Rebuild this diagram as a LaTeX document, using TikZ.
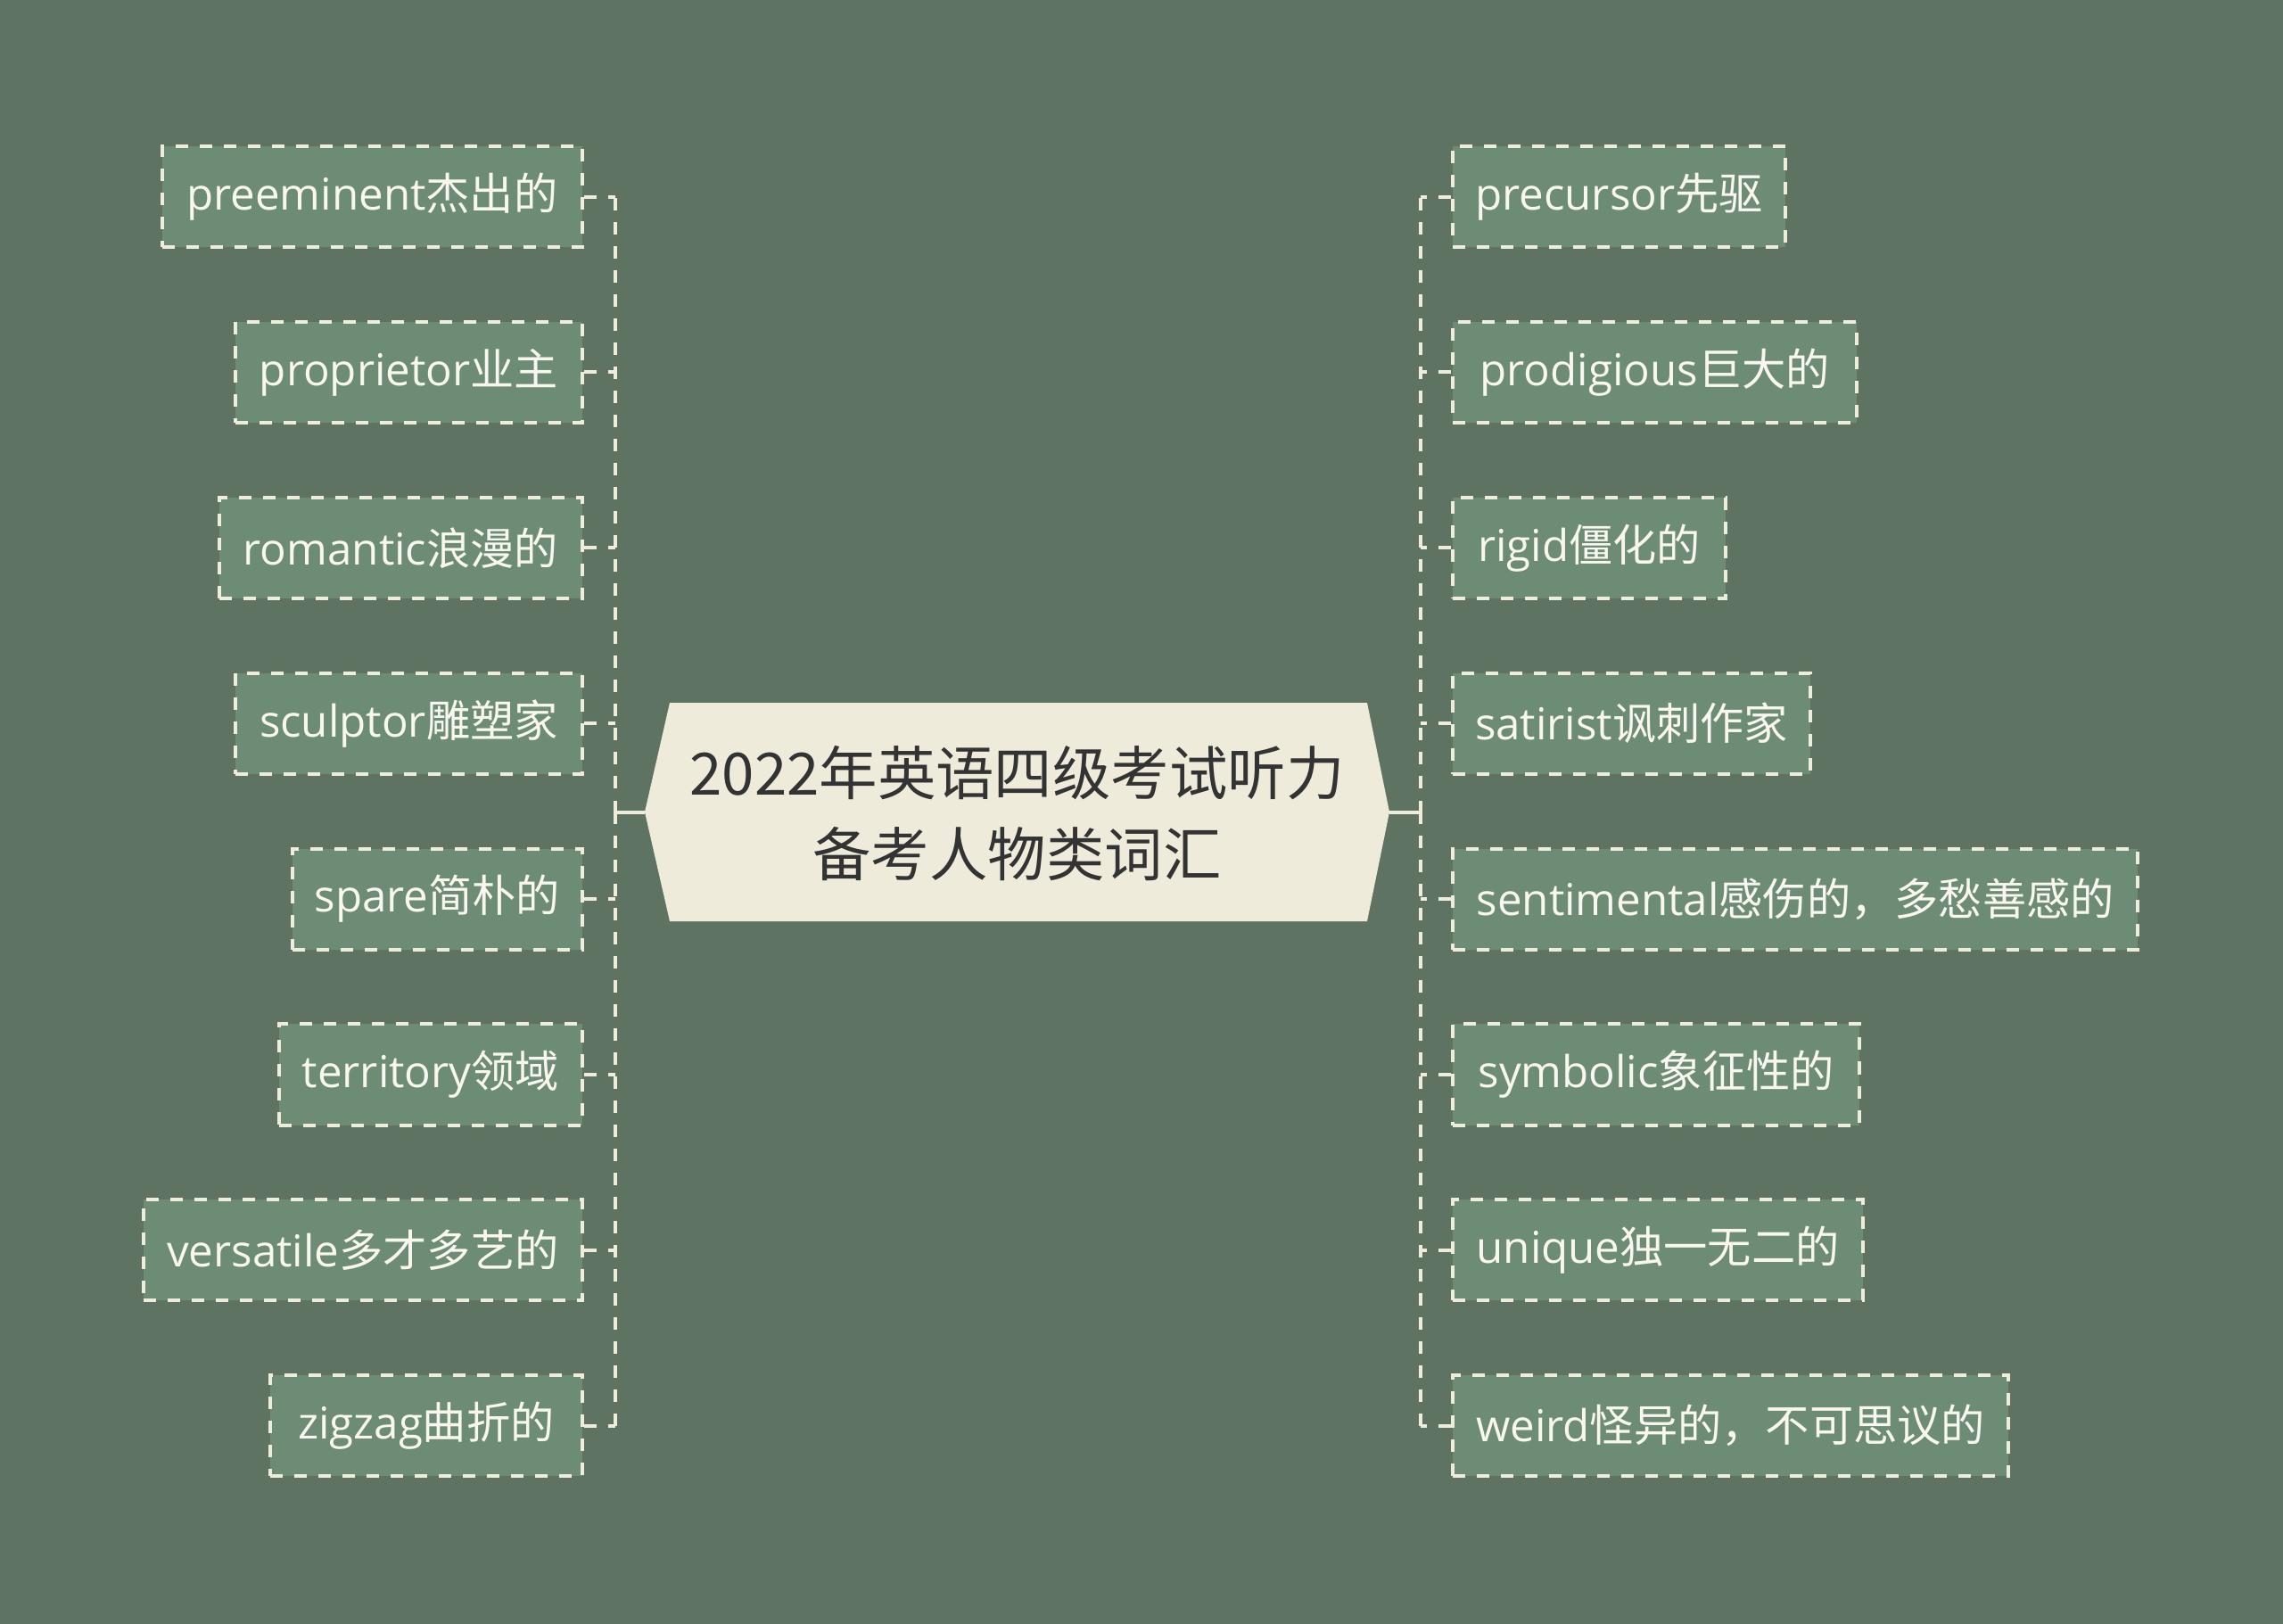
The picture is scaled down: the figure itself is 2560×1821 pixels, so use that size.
\documentclass[tikz,border=0pt]{standalone}
\usepackage{fontspec}
\setmainfont{Open Sans}
\newfontfamily\cjk{Noto Sans CJK SC}
\definecolor{bgc}{RGB}{95,115,98}
\definecolor{boxc}{RGB}{108,140,117}
\definecolor{creamc}{RGB}{239,235,219}
\definecolor{linec}{RGB}{240,236,220}
\definecolor{textc}{RGB}{248,246,238}
\definecolor{darkc}{RGB}{51,51,51}
\tikzset{
  itembox/.style={draw=linec, fill=boxc, line width=0.04cm,
    dash pattern=on 0.14cm off 0.13cm,
    minimum height=1.13cm, inner sep=0pt, text=textc, align=center,
    font=\fontsize{14}{17}\selectfont},
  lbox/.style={itembox, anchor=east},
  rbox/.style={itembox, anchor=west},
  conn/.style={draw=linec, line width=0.04cm, dash pattern=on 0.14cm off 0.13cm},
  spine/.style={conn, dash phase=0.01cm},
  stem/.style={draw=linec, line width=0.04cm},
  hub/.style={fill=creamc},
  hubtext/.style={text=darkc, align=center,
    font=\cjk\fontsize{18.6}{25.6}\selectfont}
}
\begin{document}
\begin{tikzpicture}[x=0.01cm, y=-0.01cm]
\fill[bgc] (0,0) rectangle (2560,1821);
\useasboundingbox (0,0) rectangle (2560,1821);

% central hexagon
\fill[hub] (723,910.5) -- (751,788) -- (1533,788) -- (1558,910.5) -- (1533,1033) -- (751,1033) -- cycle;
\coordinate (cl) at (723,910.5);
\coordinate (cr) at (1558,910.5);
\coordinate (sl) at (690,910.5);
\coordinate (sr) at (1593,910.5);
\node[hubtext] (c) at (1140.5,912) {2022年英语四级考试听力\\备考人物类词汇};

% left items
\node[lbox, minimum width=4.71cm] (l1) at (655,220.5) {preeminent{\cjk 杰出的}};
\node[lbox, minimum width=3.89cm] (l2) at (655,417.4) {proprietor{\cjk 业主}};
\node[lbox, minimum width=4.07cm] (l3) at (655,614.3) {romantic{\cjk 浪漫的}};
\node[lbox, minimum width=3.89cm] (l4) at (655,811.2) {sculptor{\cjk 雕塑家}};
\node[lbox, minimum width=3.25cm] (l5) at (655,1008.1) {spare{\cjk 简朴的}};
\node[lbox, minimum width=3.40cm] (l6) at (655,1205.0) {territory{\cjk 领域}};
\node[lbox, minimum width=4.92cm] (l7) at (655,1401.9) {versatile{\cjk 多才多艺的}};
\node[lbox, minimum width=3.50cm] (l8) at (655,1598.8) {zigzag{\cjk 曲折的}};

% right items
\node[rbox, minimum width=3.73cm] (r1) at (1627,220.5) {precursor{\cjk 先驱}};
\node[rbox, minimum width=4.53cm] (r2) at (1627,417.4) {prodigious{\cjk 巨大的}};
\node[rbox, minimum width=3.06cm] (r3) at (1627,614.3) {rigid{\cjk 僵化的}};
\node[rbox, minimum width=4.01cm] (r4) at (1627,811.2) {satirist{\cjk 讽刺作家}};
\node[rbox, minimum width=7.68cm] (r5) at (1627,1008.1) {sentimental{\cjk 感伤的，多愁善感的}};
\node[rbox, minimum width=4.56cm] (r6) at (1627,1205.0) {symbolic{\cjk 象征性的}};
\node[rbox, minimum width=4.60cm] (r7) at (1627,1401.9) {unique{\cjk 独一无二的}};
\node[rbox, minimum width=6.23cm] (r8) at (1627,1598.8) {weird{\cjk 怪异的，不可思议的}};

% connectors: stems from the hub
\draw[stem] (cl) -- (sl);
\draw[stem] (cr) -- (sr);
% spines
\draw[spine] (sl) -- (sl |- l1.east);
\draw[spine] (sl) -- (sl |- l8.east);
\draw[spine] (sr) -- (sr |- r1.west);
\draw[spine] (sr) -- (sr |- r8.west);
% branches to the items
\foreach \n in {l1,l2,l3,l4,l5,l6,l7,l8}{
  \draw[conn] (\n.east) -- (\n.east -| sl);
}
\foreach \n in {r1,r2,r3,r4,r5,r6,r7,r8}{
  \draw[conn] (\n.west) -- (\n.west -| sr);
}
\end{tikzpicture}
\end{document}
